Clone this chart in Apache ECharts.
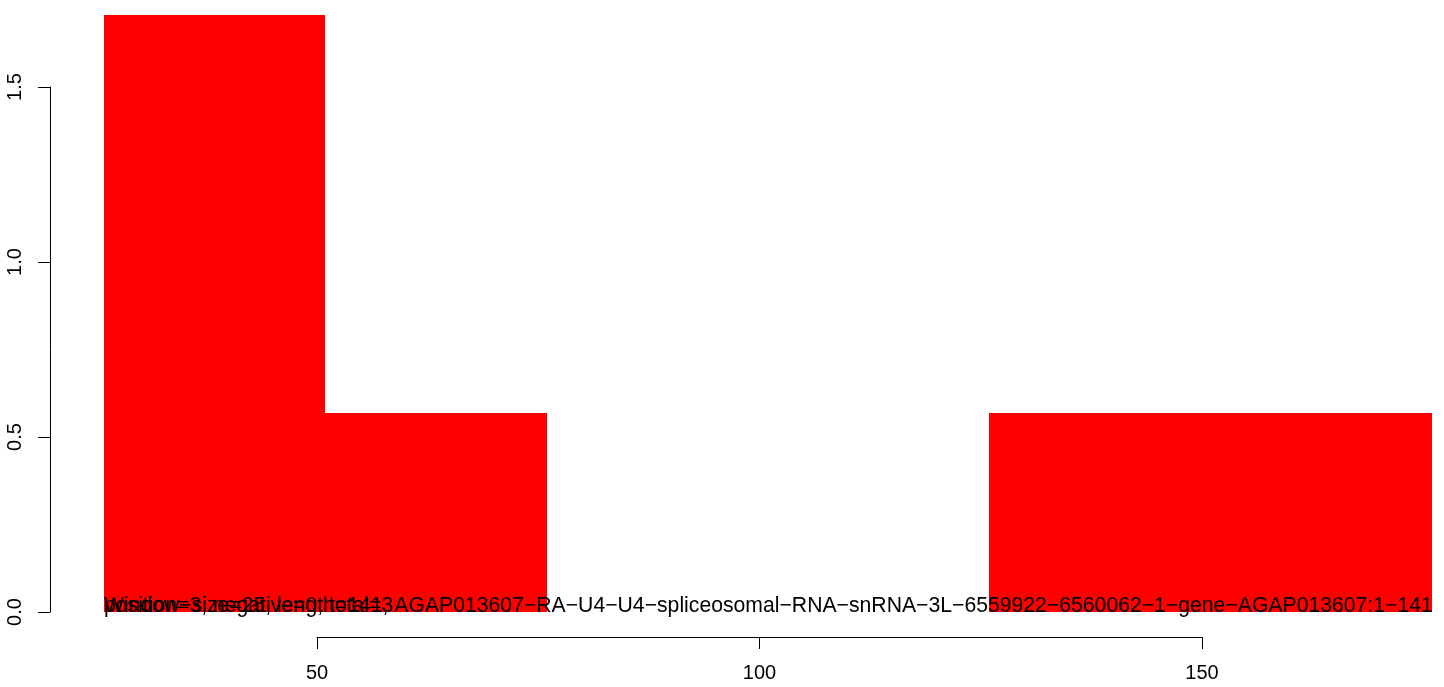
<!DOCTYPE html>
<html>
<head>
<meta charset="utf-8">
<script src="https://cdn.jsdelivr.net/npm/echarts@6/dist/echarts.min.js"></script>
<style>html,body{margin:0;padding:0;background:#fff;}#chart{width:1444px;height:687px;}</style>
</head>
<body>
<div id="chart"></div>
<script>
// Bins (window-size = 25)
const binStart = [26, 51, 76, 101, 126, 151];
const binEnd   = [51, 76, 101, 126, 151, 176];
const values   = [1.707, 0.569, 0, 0, 0.569, 0.569];
const xTicks = [50, 100, 150];
const yTicks = [0, 0.5, 1.0, 1.5];
const labelTexts = [
  'Window\u2212size=25, length=141, AGAP013607\u2212RA\u2212U4\u2212U4\u2212spliceosomal\u2212RNA\u2212snRNA\u22123L\u22126559922\u22126560062\u22121\u2212gene\u2212AGAP013607:1\u2212141',
  'position=3, negative=0, total=3'
];
const labelX = 26, labelY = 0;

const FONT = 'Liberation Sans, Arial, Helvetica, sans-serif';
const chart = echarts.init(document.getElementById('chart'), null, {renderer: 'canvas'});

const option = {
  animation: false,
  backgroundColor: '#ffffff',
  grid: [
    {left: 104, right: 12, top: 0, bottom: 75},
    {left: 50, width: 10, top: 87, bottom: 75},
    {left: 317, right: 242, top: 600, bottom: 50}
  ],
  xAxis: [
    {gridIndex: 0, type: 'value', min: 26, max: 176, show: false},
    {gridIndex: 1, type: 'value', min: 0, max: 1, show: false},
    {gridIndex: 2, type: 'value', min: xTicks[0], max: xTicks[xTicks.length - 1], interval: 50,
      position: 'bottom',
      axisLine: {show: true, onZero: false, lineStyle: {color: '#000', width: 1}},
      axisTick: {show: true, length: 12, lineStyle: {color: '#000', width: 1}},
      axisLabel: {show: true, margin: 26, fontSize: 20, color: '#000', fontFamily: FONT},
      splitLine: {show: false}}
  ],
  yAxis: [
    {gridIndex: 0, type: 'value', min: 0, max: 1.75, show: false},
    {gridIndex: 1, type: 'value', min: yTicks[0], max: yTicks[yTicks.length - 1], interval: 0.5,
      position: 'left',
      axisLine: {show: true, onZero: false, lineStyle: {color: '#000', width: 1}},
      axisTick: {show: true, length: 12, lineStyle: {color: '#000', width: 1}},
      axisLabel: {show: true, rotate: 90, margin: 25, fontSize: 20, color: '#000', fontFamily: FONT,
        formatter: v => v.toFixed(1)},
      splitLine: {show: false}},
    {gridIndex: 2, type: 'value', min: 0, max: 1, show: false}
  ],
  series: [
    {
      type: 'custom',
      xAxisIndex: 0, yAxisIndex: 0,
      clip: false,
      data: binStart.map((s, i) => [s, binEnd[i], values[i]]),
      renderItem: function (params, api) {
        const p0 = api.coord([api.value(0), api.value(2)]);
        const p1 = api.coord([api.value(1), 0]);
        const x0 = Math.round(p0[0]), x1 = Math.round(p1[0]);
        const y0 = Math.round(p0[1]), y1 = Math.round(p1[1]);
        return {
          type: 'rect',
          shape: {x: x0, y: y0, width: x1 - x0, height: y1 - y0},
          style: {fill: '#ff0000', stroke: null}
        };
      }
    },
    {
      type: 'custom',
      xAxisIndex: 0, yAxisIndex: 0,
      clip: false,
      z: 5,
      data: labelTexts.map(() => [labelX, labelY]),
      renderItem: function (params, api) {
        const p = api.coord([api.value(0), api.value(1)]);
        return {
          type: 'text',
          x: p[0], y: p[1] + 5,
          style: {
            text: labelTexts[params.dataIndex],
            fill: '#000',
            font: '21.2px ' + FONT,
            textAlign: 'left',
            textVerticalAlign: 'bottom'
          }
        };
      }
    }
  ]
};
chart.setOption(option);
</script>
</body>
</html>
